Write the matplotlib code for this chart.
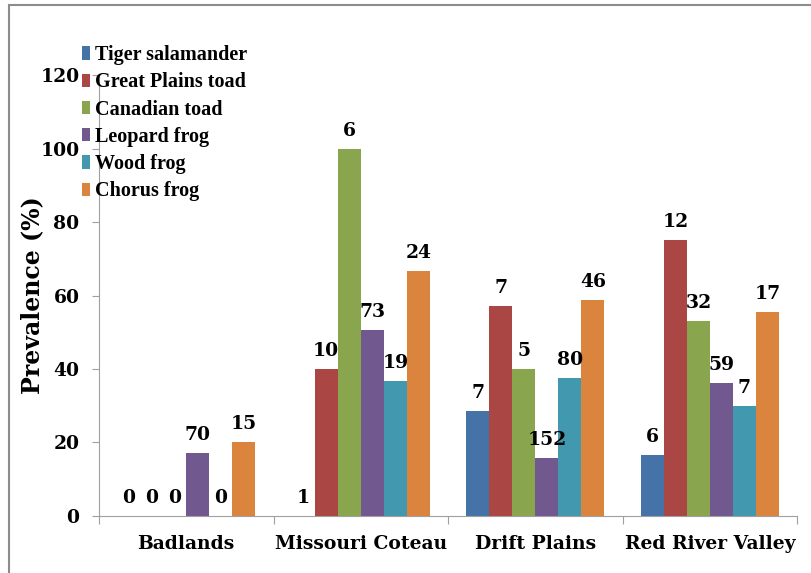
import numpy as np
import matplotlib.pyplot as plt
from matplotlib.patches import Rectangle

# prevalence per region (%), one list per species
regions = ["Badlands", "Missouri Coteau", "Drift Plains", "Red River Valley"]
species = ["Tiger salamander", "Great Plains toad", "Canadian toad",
           "Leopard frog", "Wood frog", "Chorus frog"]

tiger_salamander = [0, 0, 28.6, 16.7]
great_plains_toad = [0, 40.0, 57.1, 75.0]
canadian_toad = [0, 100.0, 40.0, 53.1]
leopard_frog = [17.1, 50.7, 15.8, 36.1]
wood_frog = [0, 36.8, 37.5, 30.0]
chorus_frog = [20.0, 66.7, 58.7, 55.6]

# sample sizes printed above the bars
n_tiger = [0, 1, 7, 6]
n_gp_toad = [0, 10, 7, 12]
n_can_toad = [0, 6, 5, 32]
n_leopard = [70, 73, 152, 59]
n_wood = [0, 19, 80, 7]
n_chorus = [15, 24, 46, 17]

values = [tiger_salamander, great_plains_toad, canadian_toad,
          leopard_frog, wood_frog, chorus_frog]
counts = [n_tiger, n_gp_toad, n_can_toad, n_leopard, n_wood, n_chorus]
colors = ["#4572A7", "#AA4643", "#89A54E", "#71588F", "#4198AF", "#DB843D"]

plt.rcParams['font.family'] = ['DejaVu Serif']
plt.rcParams['font.weight'] = 'bold'

fig = plt.figure(figsize=(8.11, 5.73), dpi=100)
ax = fig.add_axes([0.122, 0.0995, 0.861, 0.7695])

# chart-area frame
fig.patches.append(Rectangle((9 / 811, -0.05), 1.2, 1.05 - 5 / 573,
                             transform=fig.transFigure, fill=False,
                             edgecolor="#8c8c8c", linewidth=1.5))

x = np.arange(len(regions))
bw = 0.132
for i, (vals, ns, col, name) in enumerate(zip(values, counts, colors, species)):
    pos = x + (i - 2.5) * bw
    ax.bar(pos, vals, width=bw, color=col, label=name, edgecolor="none")
    for px, v, n in zip(pos, vals, ns):
        ax.annotate(str(n), (px, v), xytext=(0, 6.5), textcoords="offset points",
                    ha="center", va="bottom", fontsize=13.5, fontweight="bold")

ax.set_xlim(-0.5, len(regions) - 0.5)
ax.set_ylim(0, 120)
ax.set_yticks(range(0, 121, 20))
ax.tick_params(axis="y", labelsize=13.5, length=5, color="#a0a0a0", direction="out", pad=9)

ax.set_xticks(np.arange(len(regions) + 1) - 0.5)
ax.set_xticklabels([])
ax.set_xticks(x, minor=True)
ax.set_xticklabels(regions, minor=True, fontsize=13.5, fontweight="bold")
ax.tick_params(axis="x", which="major", length=6, color="#a0a0a0", direction="out")
ax.tick_params(axis="x", which="minor", length=0, pad=14)

for s in ["top", "right"]:
    ax.spines[s].set_visible(False)
for s in ["left", "bottom"]:
    ax.spines[s].set_color("#a0a0a0")

ax.set_ylabel("Prevalence (%)", fontsize=17, fontweight="bold", labelpad=-3)

leg = ax.legend(loc="upper left", bbox_to_anchor=(-0.024, 1.068), frameon=False,
                prop={"family": "Liberation Serif", "weight": "bold", "size": 14.5},
                handlelength=0.4, handleheight=0.65, handletextpad=0.25,
                labelspacing=0.36, borderaxespad=0.0, borderpad=0.0)

fig.savefig("out.png", dpi=100)
